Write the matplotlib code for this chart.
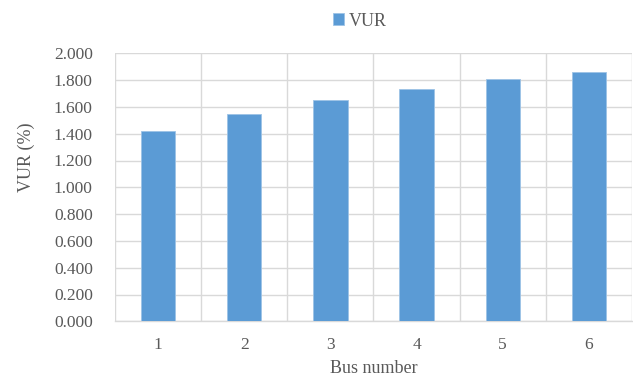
import matplotlib
matplotlib.use("Agg")
import matplotlib.pyplot as plt
from matplotlib.ticker import MultipleLocator, FuncFormatter

buses = ["1", "2", "3", "4", "5", "6"]
vur = [1.420, 1.545, 1.649, 1.731, 1.806, 1.863]

bar_color = "#5b9bd5"
grid_color = "#d9d9d9"
text_color = "#595959"

plt.rcParams["font.family"] = ["Liberation Serif", "DejaVu Serif"]

W, H = 633, 376
fig = plt.figure(figsize=(W / 100, H / 100), dpi=100)
ax = fig.add_axes([115 / W, 54.7 / H, (632 - 115) / W, (322.7 - 54.7) / H])

x = list(range(len(buses)))
ax.bar(x, vur, width=0.4, color=bar_color, edgecolor="#9dc3e6", linewidth=0.6,
       zorder=3, label="VUR")

ax.set_xlim(-0.5, len(buses) - 0.5)
ax.set_ylim(0, 2.0)
ax.yaxis.set_major_locator(MultipleLocator(0.2))
ax.yaxis.set_major_formatter(FuncFormatter(lambda v, p: f"{v:.3f}"))
ax.set_xticks(x)
ax.set_xticklabels(buses)

# category boundaries carry the vertical gridlines
ax.set_xticks([i + 0.5 for i in range(-1, len(buses))], minor=True)
ax.grid(True, which="minor", axis="x", color=grid_color, linewidth=1.0, zorder=0)
ax.grid(True, which="major", axis="y", color=grid_color, linewidth=1.0, zorder=0)

for side in ["top", "right", "left"]:
    ax.spines[side].set_visible(False)
ax.spines["bottom"].set_color(grid_color)
ax.spines["bottom"].set_linewidth(1.0)

ax.tick_params(axis="both", which="both", length=0, colors=text_color, labelsize=12.5)
ax.tick_params(axis="x", which="major", pad=11)
ax.tick_params(axis="y", pad=16)

ax.set_xlabel("Bus number", color=text_color, fontsize=13, labelpad=5)
fig.text(26 / W, 1 - 157 / H, "VUR (%)", rotation=90, ha="center", va="center",
         color=text_color, fontsize=13)

fig.legend(loc="center", bbox_to_anchor=(360 / W, 1 - 21 / H), frameon=False,
           fontsize=13, labelcolor=text_color, handlelength=0.6, handleheight=0.6,
           handletextpad=0.3, borderpad=0)

fig.savefig("out.png", dpi=100, facecolor="white")
